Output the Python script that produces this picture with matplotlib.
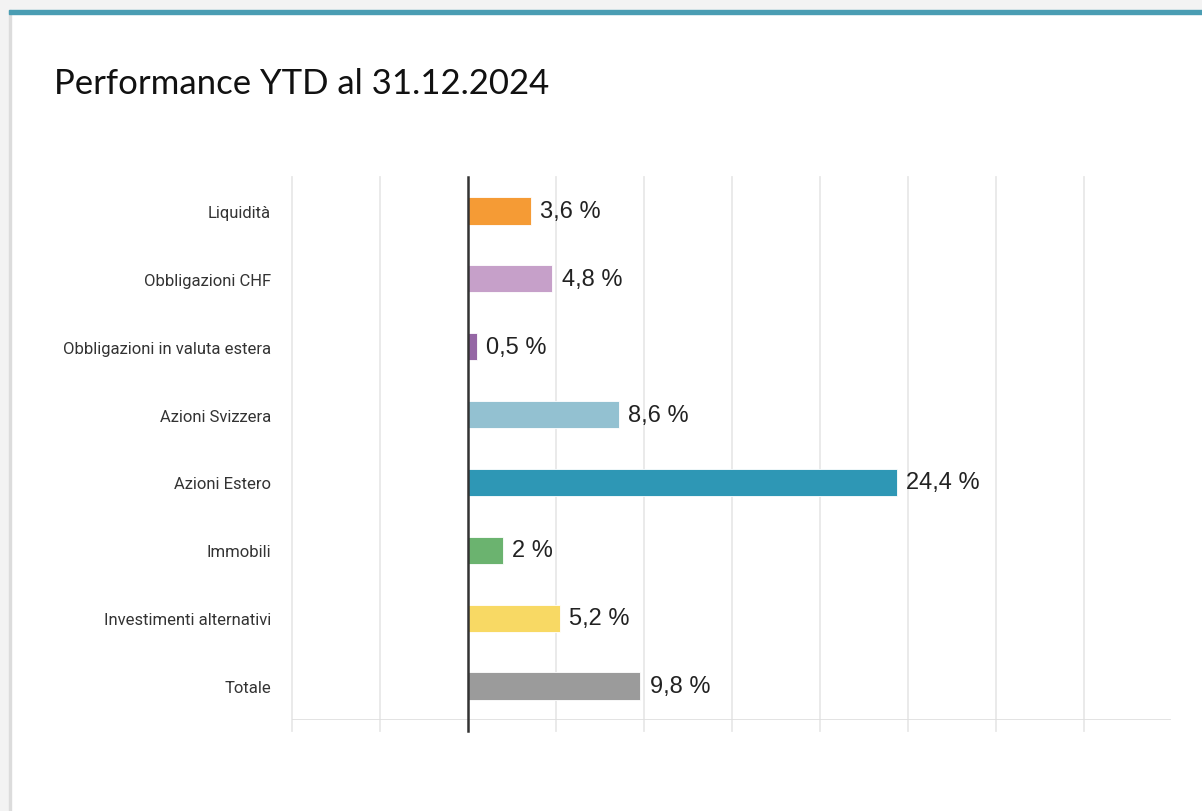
"""
Performance YTD bar chart (horizontal bars per asset class).
"""

import matplotlib
matplotlib.use("Agg")
import matplotlib.pyplot as plt
from matplotlib.patches import Rectangle
from matplotlib.transforms import blended_transform_factory

categories = [
    "Liquidità",
    "Obbligazioni CHF",
    "Obbligazioni in valuta estera",
    "Azioni Svizzera",
    "Azioni Estero",
    "Immobili",
    "Investimenti alternativi",
    "Totale",
]
values = [3.6, 4.8, 0.5, 8.6, 24.4, 2.0, 5.2, 9.8]
colors = ["#F59B35", "#C6A0C9", "#9567A5", "#93C1D1", "#2E97B5", "#6BB36F", "#F8D964", "#9B9B9B"]
x_ticks = [-10, -5, 0, 5, 10, 15, 20, 25, 30, 35]
title = "Performance YTD al 31.12.2024"


def fmt_value(v: float) -> str:
    s = f"{v:g}".replace(".", ",")
    return f"{s} %"


W, H = 1202, 812
fig = plt.figure(figsize=(W / 100, H / 100), dpi=100)
fig.patch.set_facecolor("white")

# card frame: gray shadow left/top, teal top border
fig.add_artist(Rectangle((0, 0), 9 / W, 1, transform=fig.transFigure, color="#f3f3f3", zorder=0))
fig.add_artist(Rectangle((0, 1 - 11 / H), 1, 11 / H, transform=fig.transFigure, color="#f3f3f3", zorder=0))
fig.add_artist(Rectangle((9 / W, 0), 1.5 / W, 1 - 11 / H, transform=fig.transFigure, color="#dcdcdc", zorder=1))
fig.add_artist(Rectangle((9 / W, 1 - 15 / H), 1 - 9 / W, 4 / H, transform=fig.transFigure, color="#4A9DB3", zorder=2))

fig.text(54 / W, 1 - 84 / H, title, fontsize=25, family="Lato", color="#111111", va="center", ha="left")

left, right, top, bottom = 292, 1172, 178, 721
ax = fig.add_axes([left / W, 1 - bottom / H, (right - left) / W, (bottom - top) / H])
ax.set_xlim(-10, 40)
ax.set_ylim(len(categories) - 0.5, -0.5)

y = list(range(len(categories)))
ax.barh(y, values, height=0.4, color=colors, edgecolor="white", linewidth=0.6, zorder=3)

for yi, v in zip(y, values):
    ax.annotate(fmt_value(v), (v, yi), xytext=(6.5, 0), textcoords="offset points",
                ha="left", va="center", fontsize=17, family="Liberation Sans", color="#222222")

# gridlines extending slightly below the axis
trans = blended_transform_factory(ax.transData, ax.transAxes)
ext = -11 / (bottom - top)
for t in x_ticks:
    if t == 0:
        continue
    ax.plot([t, t], [ext, 1], transform=trans, color="#e8e8e8", lw=1.3, clip_on=False, zorder=1)
ax.plot([0, 0], [ext, 1], transform=trans, color="#333333", lw=1.8, clip_on=False, zorder=4)
ax.axhline(len(categories) - 0.5, xmin=0, xmax=(1170 - left) / (right - left), color="#e0e0e0", lw=1.3, zorder=2)

ax.set_yticks(y)
ax.set_yticklabels(categories, fontsize=12, family="Roboto", color="#333333")
ax.tick_params(axis="y", length=0, pad=15)
ax.set_xticks([])
for s in ax.spines.values():
    s.set_visible(False)
ax.set_facecolor("none")

fig.savefig("out.png", dpi=100, facecolor=fig.get_facecolor())
